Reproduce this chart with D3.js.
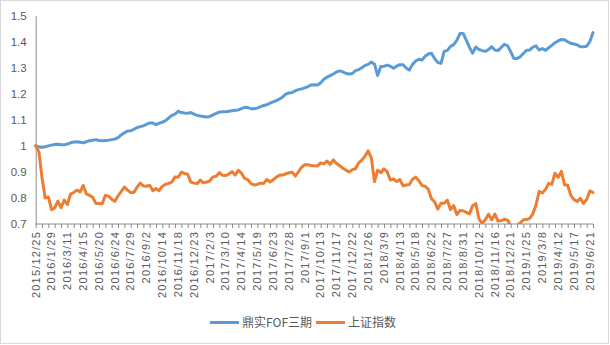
<!DOCTYPE html>
<html><head><meta charset="utf-8">
<script src="https://cdn.jsdelivr.net/npm/d3@7/dist/d3.min.js"></script>
<style>
html,body{margin:0;padding:0;background:#fff;}
svg{display:block;font-family:"Noto Sans CJK SC","Liberation Sans",sans-serif;}
</style></head>
<body><svg id="c" width="610" height="345"></svg>
<script>
const dates = ["2015/12/25","2015/12/31","2016/1/8","2016/1/15","2016/1/22","2016/1/29","2016/2/5","2016/2/19","2016/2/26","2016/3/4","2016/3/11","2016/3/18","2016/3/25","2016/4/1","2016/4/8","2016/4/15","2016/4/22","2016/4/29","2016/5/6","2016/5/13","2016/5/20","2016/5/27","2016/6/3","2016/6/8","2016/6/17","2016/6/24","2016/7/1","2016/7/8","2016/7/15","2016/7/22","2016/7/29","2016/8/5","2016/8/12","2016/8/19","2016/8/26","2016/9/2","2016/9/9","2016/9/14","2016/9/23","2016/9/30","2016/10/14","2016/10/21","2016/10/28","2016/11/4","2016/11/11","2016/11/18","2016/11/25","2016/12/2","2016/12/9","2016/12/16","2016/12/23","2016/12/30","2017/1/6","2017/1/13","2017/1/20","2017/2/3","2017/2/10","2017/2/17","2017/2/24","2017/3/3","2017/3/10","2017/3/17","2017/3/24","2017/3/31","2017/4/7","2017/4/14","2017/4/21","2017/4/28","2017/5/5","2017/5/12","2017/5/19","2017/5/26","2017/6/2","2017/6/9","2017/6/16","2017/6/23","2017/6/30","2017/7/7","2017/7/14","2017/7/21","2017/7/28","2017/8/4","2017/8/11","2017/8/18","2017/8/25","2017/9/1","2017/9/8","2017/9/15","2017/9/22","2017/9/29","2017/10/13","2017/10/20","2017/10/27","2017/11/3","2017/11/10","2017/11/17","2017/11/24","2017/12/1","2017/12/8","2017/12/15","2017/12/22","2017/12/29","2018/1/5","2018/1/12","2018/1/19","2018/1/26","2018/2/2","2018/2/9","2018/2/23","2018/3/2","2018/3/9","2018/3/16","2018/3/23","2018/3/30","2018/4/4","2018/4/13","2018/4/20","2018/4/27","2018/5/4","2018/5/11","2018/5/18","2018/5/25","2018/6/1","2018/6/8","2018/6/15","2018/6/22","2018/6/29","2018/7/6","2018/7/13","2018/7/20","2018/7/27","2018/8/3","2018/8/10","2018/8/17","2018/8/24","2018/8/31","2018/9/7","2018/9/14","2018/9/21","2018/9/28","2018/10/12","2018/10/19","2018/10/26","2018/11/2","2018/11/9","2018/11/16","2018/11/23","2018/11/30","2018/12/7","2018/12/14","2018/12/21","2018/12/28","2019/1/4","2019/1/11","2019/1/18","2019/1/25","2019/2/1","2019/2/15","2019/2/22","2019/3/1","2019/3/8","2019/3/15","2019/3/22","2019/3/29","2019/4/4","2019/4/12","2019/4/19","2019/4/26","2019/4/30","2019/5/10","2019/5/17","2019/5/24","2019/5/31","2019/6/6","2019/6/14","2019/6/21","2019/6/28"];

const seriesNames = ["鼎实FOF三期","上证指数"];

const fofValues = [
1.000,0.997,0.995,0.997,1.000,1.003,1.005,1.006,1.004,1.004,
1.007,1.012,1.015,1.016,1.014,1.012,1.016,1.020,1.022,1.024,
1.021,1.020,1.021,1.022,1.024,1.026,1.032,1.042,1.050,1.057,
1.058,1.064,1.070,1.074,1.077,1.083,1.088,1.088,1.082,1.087,
1.091,1.097,1.107,1.117,1.122,1.133,1.128,1.126,1.125,1.128,
1.122,1.117,1.115,1.113,1.111,1.113,1.119,1.125,1.130,1.131,
1.131,1.133,1.135,1.137,1.138,1.143,1.148,1.147,1.143,1.143,
1.145,1.151,1.155,1.158,1.164,1.169,1.174,1.180,1.188,1.199,
1.203,1.205,1.212,1.216,1.219,1.223,1.228,1.234,1.235,1.234,
1.242,1.256,1.264,1.270,1.276,1.284,1.288,1.284,1.278,1.276,
1.278,1.289,1.293,1.300,1.309,1.313,1.322,1.314,1.270,1.305,
1.306,1.310,1.306,1.298,1.306,1.312,1.312,1.299,1.291,1.313,
1.326,1.333,1.330,1.344,1.353,1.356,1.335,1.320,1.317,1.363,
1.367,1.382,1.389,1.405,1.432,1.432,1.405,1.378,1.356,1.380,
1.370,1.366,1.363,1.370,1.381,1.368,1.366,1.378,1.390,1.385,
1.362,1.336,1.336,1.342,1.355,1.367,1.368,1.379,1.384,1.368,
1.374,1.367,1.377,1.386,1.396,1.403,1.409,1.408,1.400,1.394,
1.391,1.388,1.381,1.381,1.383,1.400,1.435];

const sseValues = [
1.000,0.978,0.878,0.800,0.804,0.755,0.762,0.788,0.763,0.792,
0.775,0.815,0.821,0.830,0.823,0.848,0.816,0.810,0.803,0.779,
0.779,0.778,0.810,0.807,0.795,0.787,0.808,0.824,0.842,0.830,
0.821,0.821,0.841,0.857,0.846,0.845,0.849,0.828,0.836,0.828,
0.845,0.852,0.856,0.861,0.881,0.880,0.899,0.894,0.891,0.861,
0.857,0.855,0.869,0.858,0.861,0.866,0.881,0.883,0.897,0.887,
0.886,0.892,0.901,0.888,0.906,0.895,0.875,0.870,0.855,0.850,
0.852,0.857,0.856,0.871,0.861,0.870,0.880,0.887,0.888,0.893,
0.897,0.899,0.884,0.901,0.918,0.928,0.928,0.924,0.924,0.923,
0.935,0.931,0.942,0.929,0.946,0.932,0.924,0.914,0.907,0.900,
0.909,0.912,0.935,0.945,0.961,0.981,0.954,0.863,0.907,0.897,
0.912,0.901,0.869,0.873,0.863,0.871,0.847,0.850,0.852,0.872,
0.880,0.866,0.848,0.845,0.833,0.797,0.785,0.757,0.780,0.780,
0.792,0.755,0.771,0.736,0.752,0.751,0.745,0.739,0.771,0.778,
0.719,0.703,0.716,0.738,0.716,0.738,0.711,0.713,0.718,0.715,
0.694,0.687,0.693,0.704,0.716,0.717,0.722,0.739,0.773,0.825,
0.819,0.833,0.856,0.852,0.895,0.879,0.902,0.851,0.849,0.810,
0.794,0.786,0.799,0.779,0.794,0.827,0.821];

const yTicks = [0.7,0.8,0.9,1,1.1,1.2,1.3,1.4,1.5];
const colors = ["#5B9BD5","#ED7D31"];

const svg = d3.select("#c");
svg.append("rect").attr("x",0.5).attr("y",0.5).attr("width",608).attr("height",343)
  .attr("fill","#fff").attr("stroke","#d9d9d9");

const pLeft = 35.7, pRight = 593, pTop = 15.7, pBottom = 224;
const x = d3.scalePoint().domain(dates).range([pLeft,pRight]);
const y = d3.scaleLinear().domain([0.7,1.5]).range([pBottom,pTop]);

svg.append("defs").append("clipPath").attr("id","pa")
  .append("rect").attr("x",pLeft-3).attr("y",pTop-3).attr("width",pRight-pLeft+6).attr("height",pBottom-pTop+3);

// y axis
const yAxis = d3.axisLeft(y).tickValues(yTicks).tickSize(0).tickPadding(9)
  .tickFormat(d => String(+d.toFixed(1)));
const gy = svg.append("g").attr("transform",`translate(${pLeft},0)`).call(yAxis);
gy.select(".domain").attr("stroke","#8c8c8c").attr("stroke-width",1);
gy.selectAll("text").attr("fill","#595959").style("font-size","11.5px")
  .style("font-family","'Liberation Sans',sans-serif");

// x axis
const tickDates = dates.filter((d,i)=>i%2===0);
const labelDates = dates.filter((d,i)=>i%5===0);
const xTicks = d3.axisBottom(x).tickValues(tickDates).tickSize(4).tickFormat("");
const gx = svg.append("g").attr("transform",`translate(0,${pBottom})`).call(xTicks);
gx.select(".domain").attr("stroke","#8c8c8c").attr("stroke-width",1).attr("d",`M${pLeft},0H${pRight}`);
gx.selectAll(".tick line").attr("stroke","#8c8c8c");

const gl = svg.append("g");
gl.selectAll("text").data(labelDates).join("text")
  .attr("transform",d=>`translate(${x(d)+3.8},${pBottom+7}) rotate(-90)`)
  .attr("text-anchor","end")
  .attr("fill","#595959")
  .style("font-size","11px")
  .style("letter-spacing","1.2px")
  .style("font-family","'Liberation Sans',sans-serif")
  .text(d=>d);

// lines
const plot = svg.append("g").attr("clip-path","url(#pa)");
const line = d3.line().x((d,i)=>x(dates[i])).y(d=>y(d));
[fofValues, sseValues].forEach((vals,k)=>{
  plot.append("path").datum(vals).attr("d",line)
    .attr("fill","none").attr("stroke",colors[k]).attr("stroke-width",3)
    .attr("stroke-linejoin","round").attr("stroke-linecap","round");
});

// legend
const legX = [210, 316];
seriesNames.forEach((n,k)=>{
  const g = svg.append("g").attr("transform",`translate(${legX[k]},322.5)`);
  g.append("line").attr("x1",0).attr("x2",29).attr("y1",0).attr("y2",0)
    .attr("stroke",colors[k]).attr("stroke-width",3);
  g.append("text").attr("x",32).attr("y",4.5).attr("fill","#595959")
    .style("font-size","12px").text(n);
});
</script></body></html>
